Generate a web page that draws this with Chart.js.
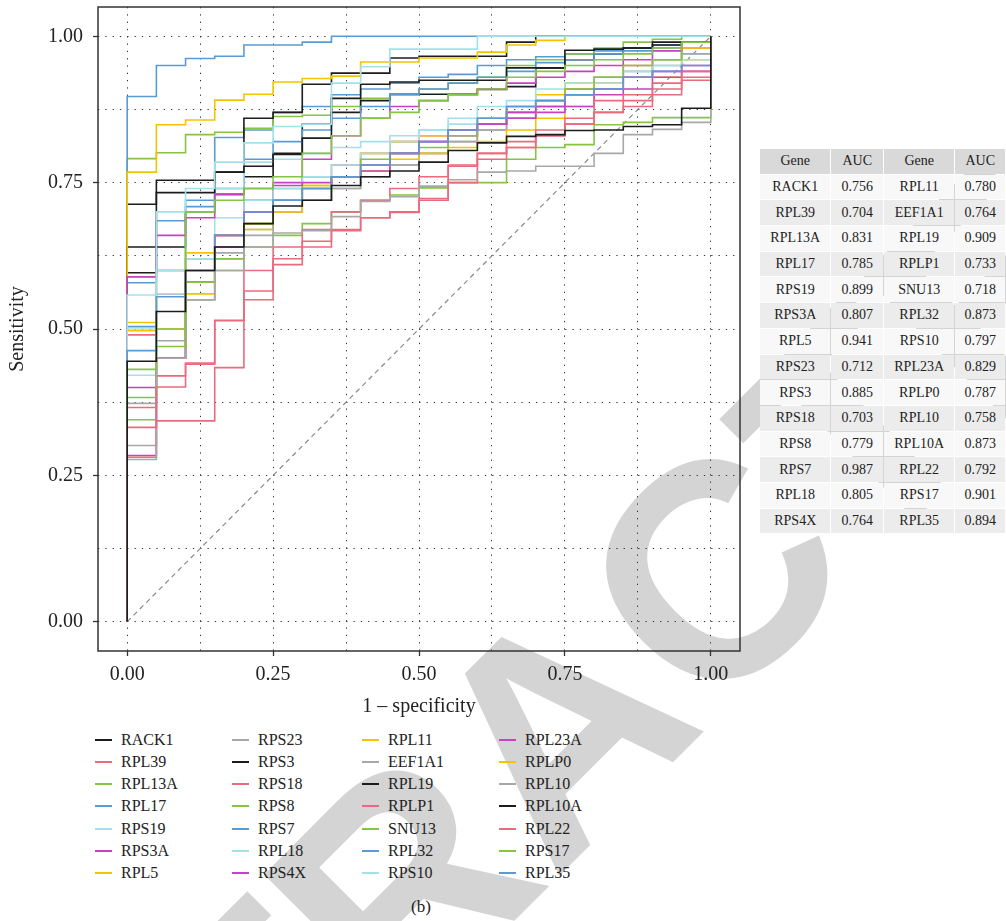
<!DOCTYPE html>
<html lang="en">
<head>
<meta charset="UTF-8">
<title>ROC curves</title>
<script src="https://cdn.jsdelivr.net/npm/chart.js"></script>
<style>
    body { margin: 0; background: #fff; font-family: "Liberation Serif", serif; color: #222; }
    .page { position: relative; width: 1006px; height: 921px; overflow: hidden; }
    .stamp { position: absolute; left: 557px; top: 729px; transform: translate(-50%, -50%) rotate(-45deg);
             font: bold 305px "Liberation Sans", sans-serif; color: #d4d4d4; white-space: nowrap; line-height: 1; z-index: 0; }
    #rocChart { position: absolute; left: 0; top: 0; z-index: 1; }
    .auc-table { position: absolute; left: 759px; top: 148px; z-index: 2; border-collapse: separate; border-spacing: 1px; font-size: 14px; }
    .auc-table td, .auc-table th { height: 24.7px; padding: 0; text-align: center; font-weight: normal; }
    .auc-table th { background: #d9d9d9; }
    .auc-table tr:nth-child(odd) td { background: #ececec; }
    .auc-table tr:nth-child(even) td { background: #f8f8f8; }
    .legend { position: absolute; left: 0; top: 0; z-index: 2; font-size: 16px; }
    .legend .item { position: absolute; height: 20px; line-height: 20px; white-space: nowrap; }
    .legend .swatch { position: absolute; left: 0; top: 9px; width: 17px; height: 2px; }
    .legend .label { position: absolute; left: 26px; top: 0; }
    .caption { position: absolute; left: 421px; top: 897px; transform: translateX(-50%); font-size: 17px; z-index: 2; }
</style>
</head>
<body>
<div class="page">
    <div class="stamp">RETRACTED</div>
    <canvas id="rocChart" width="745" height="730"></canvas>
    <table class="auc-table" id="aucTable"></table>
    <div class="legend" id="legend"></div>
    <div class="caption">(b)</div>
</div>

<script>
    // genes in legend / table order
    const genes = ['RACK1', 'RPL39', 'RPL13A', 'RPL17', 'RPS19', 'RPS3A', 'RPL5',
        'RPS23', 'RPS3', 'RPS18', 'RPS8', 'RPS7', 'RPL18', 'RPS4X',
        'RPL11', 'EEF1A1', 'RPL19', 'RPLP1', 'SNU13', 'RPL32', 'RPS10',
        'RPL23A', 'RPLP0', 'RPL10', 'RPL10A', 'RPL22', 'RPS17', 'RPL35'];
    const aucs = [0.756, 0.704, 0.831, 0.785, 0.899, 0.807, 0.941,
        0.712, 0.885, 0.703, 0.779, 0.987, 0.805, 0.764,
        0.780, 0.764, 0.909, 0.733, 0.718, 0.873, 0.797,
        0.829, 0.787, 0.758, 0.873, 0.792, 0.901, 0.894];

    // 1 - specificity where each sensitivity level starts
    const fprSteps = [0, 0.05, 0.10, 0.15, 0.20, 0.25, 0.30, 0.35, 0.40, 0.45,
        0.50, 0.55, 0.60, 0.65, 0.70, 0.75, 0.80, 0.85, 0.90, 0.95];

    // sensitivity levels
    const RACK1 = [0.445, 0.53, 0.60, 0.64, 0.68, 0.71, 0.72, 0.745, 0.76, 0.77, 0.785, 0.805, 0.818, 0.829, 0.832, 0.839, 0.84, 0.846, 0.849, 0.877];
    const RPL39 = [0.332, 0.401, 0.442, 0.514, 0.565, 0.61, 0.64, 0.668, 0.69, 0.699, 0.723, 0.778, 0.79, 0.81, 0.83, 0.85, 0.87, 0.89, 0.91, 0.93];
    const RPL13A = [0.431, 0.47, 0.70, 0.72, 0.74, 0.76, 0.80, 0.83, 0.86, 0.87, 0.89, 0.90, 0.91, 0.93, 0.94, 0.95, 0.96, 0.97, 0.98, 0.99];
    const RPL17 = [0.463, 0.555, 0.60, 0.66, 0.70, 0.72, 0.74, 0.76, 0.78, 0.80, 0.82, 0.84, 0.86, 0.88, 0.89, 0.90, 0.91, 0.93, 0.94, 0.95];
    const RPS19 = [0.558, 0.70, 0.74, 0.785, 0.818, 0.846, 0.85, 0.92, 0.948, 0.978, 0.978, 0.978, 1, 1, 1, 1, 1, 1, 1, 1];
    const RPS3A = [0.589, 0.66, 0.69, 0.73, 0.74, 0.745, 0.75, 0.76, 0.77, 0.80, 0.82, 0.84, 0.85, 0.87, 0.88, 0.90, 0.91, 0.93, 0.94, 0.95];
    const RPL5 = [0.768, 0.849, 0.857, 0.891, 0.901, 0.922, 0.928, 0.932, 0.956, 0.956, 0.963, 0.963, 0.973, 0.985, 0.993, 1, 1, 1, 1, 1];
    const RPS23 = [0.277, 0.45, 0.55, 0.60, 0.64, 0.664, 0.668, 0.692, 0.718, 0.726, 0.744, 0.755, 0.768, 0.77, 0.778, 0.778, 0.80, 0.832, 0.841, 0.853];
    const RPS3 = [0.640, 0.733, 0.733, 0.768, 0.778, 0.798, 0.826, 0.894, 0.918, 0.922, 0.925, 0.925, 0.925, 0.946, 0.946, 0.976, 0.978, 0.98, 0.99, 0.99];
    const RPS18 = [0.281, 0.343, 0.343, 0.434, 0.55, 0.62, 0.65, 0.67, 0.69, 0.70, 0.72, 0.75, 0.80, 0.82, 0.84, 0.86, 0.89, 0.90, 0.92, 0.94];
    const RPS8 = [0.383, 0.50, 0.58, 0.62, 0.68, 0.72, 0.74, 0.76, 0.79, 0.80, 0.81, 0.83, 0.85, 0.87, 0.89, 0.91, 0.93, 0.95, 0.96, 0.99];
    const RPS7 = [0.897, 0.95, 0.962, 0.966, 0.985, 0.985, 0.99, 1, 1, 1, 1, 1, 1, 1, 1, 1, 1, 1, 1, 1];
    const RPL18 = [0.50, 0.60, 0.70, 0.74, 0.785, 0.79, 0.80, 0.81, 0.82, 0.83, 0.84, 0.85, 0.86, 0.87, 0.89, 0.90, 0.92, 0.93, 0.95, 0.96];
    const RPS4X = [0.284, 0.45, 0.60, 0.66, 0.70, 0.72, 0.74, 0.76, 0.78, 0.80, 0.82, 0.83, 0.85, 0.86, 0.87, 0.88, 0.90, 0.91, 0.93, 0.94];
    const RPL11 = [0.511, 0.60, 0.63, 0.66, 0.68, 0.70, 0.745, 0.76, 0.77, 0.79, 0.80, 0.81, 0.82, 0.84, 0.86, 0.88, 0.92, 0.93, 0.93, 0.96];
    const EEF1A1 = [0.373, 0.45, 0.55, 0.62, 0.66, 0.70, 0.72, 0.74, 0.76, 0.78, 0.80, 0.82, 0.84, 0.86, 0.88, 0.90, 0.92, 0.93, 0.95, 0.97];
    const RPL19 = [0.713, 0.754, 0.754, 0.768, 0.86, 0.87, 0.918, 0.937, 0.937, 0.963, 0.966, 0.966, 0.966, 0.99, 1, 1, 1, 1, 1, 1];
    const RPLP1 = [0.366, 0.42, 0.44, 0.515, 0.60, 0.64, 0.67, 0.70, 0.72, 0.74, 0.76, 0.78, 0.80, 0.81, 0.83, 0.85, 0.87, 0.88, 0.90, 0.925];
    const SNU13 = [0.345, 0.45, 0.55, 0.60, 0.64, 0.66, 0.68, 0.70, 0.72, 0.729, 0.741, 0.75, 0.75, 0.79, 0.81, 0.815, 0.849, 0.853, 0.861, 0.861];
    const RPL32 = [0.504, 0.60, 0.72, 0.74, 0.79, 0.82, 0.84, 0.86, 0.88, 0.90, 0.91, 0.92, 0.93, 0.94, 0.955, 0.96, 0.97, 0.975, 0.98, 0.99];
    const RPS10 = [0.421, 0.56, 0.62, 0.69, 0.72, 0.74, 0.76, 0.78, 0.80, 0.82, 0.84, 0.86, 0.88, 0.89, 0.91, 0.92, 0.93, 0.94, 0.96, 0.97];
    const RPL23A = [0.40, 0.45, 0.58, 0.64, 0.72, 0.75, 0.79, 0.83, 0.86, 0.88, 0.89, 0.90, 0.91, 0.92, 0.93, 0.94, 0.95, 0.96, 0.975, 0.99];
    const RPLP0 = [0.497, 0.50, 0.56, 0.62, 0.67, 0.72, 0.745, 0.76, 0.80, 0.82, 0.83, 0.84, 0.86, 0.88, 0.90, 0.92, 0.93, 0.93, 0.96, 0.98];
    const RPL10 = [0.301, 0.48, 0.58, 0.63, 0.67, 0.70, 0.72, 0.74, 0.76, 0.78, 0.80, 0.82, 0.84, 0.86, 0.88, 0.90, 0.93, 0.94, 0.96, 0.99];
    const RPL10A = [0.596, 0.64, 0.70, 0.73, 0.76, 0.80, 0.85, 0.87, 0.89, 0.901, 0.901, 0.901, 0.909, 0.914, 0.946, 0.96, 0.97, 0.98, 0.985, 0.99];
    const RPL22 = [0.49, 0.56, 0.62, 0.66, 0.70, 0.74, 0.76, 0.78, 0.80, 0.82, 0.83, 0.84, 0.86, 0.88, 0.89, 0.91, 0.93, 0.95, 0.96, 0.98];
    const RPS17 = [0.791, 0.801, 0.832, 0.836, 0.843, 0.863, 0.865, 0.88, 0.894, 0.90, 0.91, 0.92, 0.93, 0.95, 0.96, 0.97, 0.98, 0.99, 0.995, 1.0];
    const RPL35 = [0.579, 0.685, 0.709, 0.827, 0.84, 0.87, 0.88, 0.90, 0.91, 0.92, 0.93, 0.935, 0.95, 0.96, 0.965, 0.97, 0.975, 0.98, 0.985, 0.99];

    const sensitivity = [RACK1, RPL39, RPL13A, RPL17, RPS19, RPS3A, RPL5,
        RPS23, RPS3, RPS18, RPS8, RPS7, RPL18, RPS4X,
        RPL11, EEF1A1, RPL19, RPLP1, SNU13, RPL32, RPS10,
        RPL23A, RPLP0, RPL10, RPL10A, RPL22, RPS17, RPL35];

    const gridValues = [0, 0.125, 0.25, 0.375, 0.5, 0.625, 0.75, 0.875, 1];

    // colours cycle every 8 genes
    const palette = ['#1c1c1c', '#e96b7e', '#86c443', '#5b9bd5', '#a3e1ea', '#c542c0', '#f5c300', '#a8a8a8'];

    const serif = '"Liberation Serif", serif';
    const isMajor = v => Math.abs(v * 4 - Math.round(v * 4)) < 1e-9;

    const datasets = genes.map((g, i) => ({
        label: g,
        data: [{ x: 0, y: 0 }]
            .concat(fprSteps.map((x, k) => ({ x: x, y: sensitivity[i][k] })))
            .concat([{ x: 1, y: 1 }]),
        borderColor: palette[i % 8],
        borderWidth: 1.6,
        stepped: 'before',
        pointRadius: 0,
        fill: false
    }));
    datasets.push({
        label: 'reference',
        data: [{ x: 0, y: 0 }, { x: 1, y: 1 }],
        borderColor: '#8a8a8a',
        borderWidth: 1.2,
        borderDash: [5, 4],
        pointRadius: 0,
        fill: false
    });

    function axis(title, isY) {
        return {
            type: 'linear',
            min: -0.05,
            max: 1.05,
            afterBuildTicks: sc => { sc.ticks = gridValues.map(v => ({ value: v })); },
            afterFit: sc => {
                if (isY) { sc.width = 98; sc.paddingTop = 0; sc.paddingBottom = 0; }
                else { sc.height = 79; sc.paddingLeft = 0; sc.paddingRight = 0; }
            },
            ticks: {
                autoSkip: false,
                maxRotation: 0,
                padding: isY ? 10 : 7,
                color: '#222',
                font: { family: serif, size: 20 },
                callback: v => isMajor(v) ? v.toFixed(2) : ''
            },
            grid: {
                color: '#333',
                lineWidth: 1,
                drawTicks: true,
                tickLength: 5,
                tickWidth: 1.3,
                tickColor: ctx => isMajor(ctx.tick.value) ? '#333' : 'rgba(0,0,0,0)'
            },
            border: { display: false, dash: [1.3, 6] },
            title: {
                display: true,
                text: title,
                color: '#222',
                font: { family: serif, size: 20 },
                padding: isY ? { top: 6, bottom: 0 } : { top: 0, bottom: 11 }
            }
        };
    }

    const framePlugin = {
        id: 'frame',
        afterDatasetsDraw(chart) {
            const a = chart.chartArea, ctx = chart.ctx;
            ctx.save();
            ctx.strokeStyle = '#333';
            ctx.lineWidth = 1.5;
            ctx.strokeRect(a.left, a.top, a.right - a.left, a.bottom - a.top);
            ctx.restore();
        }
    };

    new Chart(document.getElementById('rocChart'), {
        type: 'line',
        data: { datasets: datasets },
        options: {
            responsive: false,
            animation: false,
            devicePixelRatio: 1,
            layout: { padding: { left: 0, right: 5, top: 7, bottom: 0 } },
            plugins: { legend: { display: false }, tooltip: { enabled: false } },
            scales: { x: axis('1 – specificity', false), y: axis('Sensitivity', true) }
        },
        plugins: [framePlugin]
    });

    // AUC table, two gene columns side by side
    const table = document.getElementById('aucTable');
    const widths = [71, 52, 71, 50];
    let html = '<tr>' + ['Gene', 'AUC', 'Gene', 'AUC'].map((h, j) => `<th style="width:${widths[j]}px">${h}</th>`).join('') + '</tr>';
    const half = genes.length / 2;
    for (let r = 0; r < half; r++) {
        html += `<tr><td>${genes[r]}</td><td>${aucs[r].toFixed(3)}</td>` +
            `<td>${genes[r + half]}</td><td>${aucs[r + half].toFixed(3)}</td></tr>`;
    }
    table.innerHTML = html;

    // legend, 4 columns filled top to bottom
    const legend = document.getElementById('legend');
    const colX = [95, 232, 362, 499];
    genes.forEach((g, i) => {
        const item = document.createElement('div');
        item.className = 'item';
        item.style.left = colX[Math.floor(i / 7)] + 'px';
        item.style.top = (729.5 + (i % 7) * 22.3) + 'px';
        item.innerHTML = `<span class="swatch" style="background:${palette[i % 8]}"></span><span class="label">${g}</span>`;
        legend.appendChild(item);
    });
</script>
</body>
</html>
